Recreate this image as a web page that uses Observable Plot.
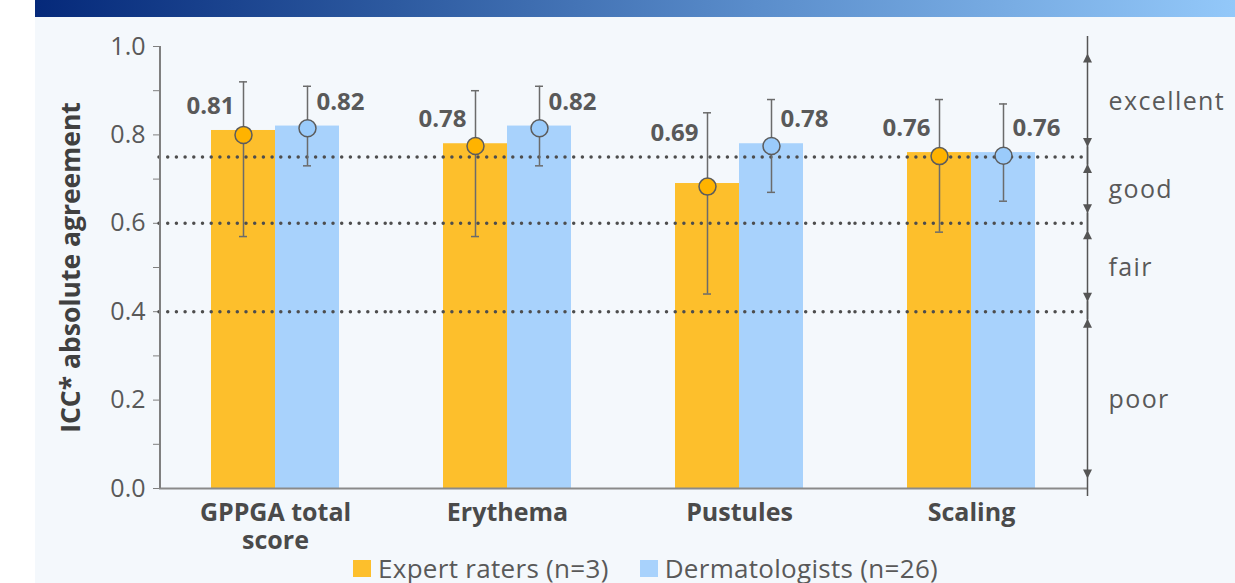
<!DOCTYPE html>
<html><head><meta charset="utf-8">
<script src="https://cdn.jsdelivr.net/npm/d3@7"></script>
<script src="https://cdn.jsdelivr.net/npm/@observablehq/plot@0.6"></script>
<style>
body{margin:0;width:1235px;height:583px;overflow:hidden;background:#fff;font-family:"Open Sans",sans-serif;position:relative}
#bg{position:absolute;left:35px;top:0;width:1200px;height:583px;background:#f4f8fc}
#banner{position:absolute;left:35px;top:0;width:1200px;height:17px;background:linear-gradient(to right,#05297a 0%,#2d5aa0 30%,#5a8dcb 60%,#93c8f9 100%)}
#chart{position:absolute;left:0;top:0}
#legend{position:absolute;left:353px;top:555px;height:27px;line-height:27px;display:flex;align-items:center;font-size:26px;letter-spacing:0.3px;color:#595959;white-space:nowrap}
#legend .sw{display:inline-block;width:18px;height:17px;margin-right:7px}
#legend .item{display:flex;align-items:center;margin-right:31px;line-height:27px}
</style></head>
<body>
<div id="bg"></div>
<div id="banner"></div>
<div id="chart"></div>
<div id="legend"></div>
<script>
const categories = ["GPPGA total score", "Erythema", "Pustules", "Scaling"];
const categoryLines = ["GPPGA total\nscore", "Erythema", "Pustules", "Scaling"];
const groups = ["Expert raters (n=3)", "Dermatologists (n=26)"];
const expertICC = [0.81, 0.78, 0.69, 0.76];
const expertPoint = [0.80, 0.775, 0.683, 0.752];
const expertLow = [0.57, 0.57, 0.44, 0.58];
const expertHigh = [0.92, 0.90, 0.85, 0.88];
const dermICC = [0.82, 0.82, 0.78, 0.76];
const dermPoint = [0.815, 0.815, 0.775, 0.753];
const dermLow = [0.73, 0.73, 0.67, 0.65];
const dermHigh = [0.91, 0.91, 0.88, 0.87];
const thresholds = [0.75, 0.6, 0.4];
const bandNames = ["excellent", "good", "fair", "poor"];
const bandLow = [0.75, 0.6, 0.4, 0];
const bandHigh = [1.0, 0.75, 0.6, 0.4];
const majorTicks = [0, 0.2, 0.4, 0.6, 0.8, 1.0];
const minorTicks = [0.1, 0.3, 0.5, 0.7, 0.9];

const barColors = ["#fdbf2c", "#a8d2fc"];
const dotColors = ["#ffb300", "#9acbfb"];
const ink = "#595959";
const axisGray = "#7f7f7f";

const rows = categories.flatMap((c, i) => [
  {cat: c, group: groups[0], icc: expertICC[i], point: expertPoint[i], lo: expertLow[i], hi: expertHigh[i]},
  {cat: c, group: groups[1], icc: dermICC[i], point: dermPoint[i], lo: dermLow[i], hi: dermHigh[i]}
]);
const bands = bandNames.map((n, i) => ({name: n, lo: bandLow[i], hi: bandHigh[i]}));
const lastCat = categories[categories.length - 1];
const allTicks = [...majorTicks, ...minorTicks].sort((a, b) => a - b);

// layout
const W = 1235, H = 553, mL = 159, mR = 148, mT = 46, mB = 65;
const outerPad = 0.785;
const facetW = (W - mL - mR) / categories.length;
const step = facetW / (groups.length + 2 * outerPad);
const firstCenter = step * outerPad + step / 2; // first bar centre inside a facet

const upHead = {draw(ctx) { ctx.moveTo(0, 0); ctx.lineTo(4.5, 9); ctx.lineTo(-4.5, 9); ctx.closePath(); }};
const downHead = {draw(ctx) { ctx.moveTo(0, 0); ctx.lineTo(4.5, -9); ctx.lineTo(-4.5, -9); ctx.closePath(); }};

const errStyle = {stroke: "#6b6b6b", strokeWidth: 1.5};
// value labels sit above the good/excellent threshold line when the bar is lower
const labelY = d => Math.max(d.icc, thresholds[0]);
const bandOpts = {fx: () => lastCat, x: () => groups[1]};

const chart = Plot.plot({
  width: W, height: H,
  marginTop: mT, marginBottom: mB, marginLeft: mL, marginRight: mR,
  style: {fontFamily: "Open Sans", fontSize: "25px", background: "transparent", color: ink, overflow: "visible"},
  fx: {domain: categories, padding: 0, axis: null},
  x: {domain: groups, paddingInner: 0, paddingOuter: outerPad, axis: null},
  y: {domain: [0, 1], ticks: allTicks, tickFormat: d => majorTicks.includes(d) ? d.toFixed(1) : "", tickSize: 6, tickPadding: 8, label: null},
  color: {domain: groups, range: barColors},
  marks: [
    Plot.barY(rows, {fx: "cat", x: "group", y: "icc", fill: "group", insetLeft: 0, insetRight: 0}),
    Plot.ruleY(thresholds, {stroke: "#4d4d4d", strokeWidth: 3.5, strokeDasharray: "0 8.7", strokeLinecap: "round"}),
    Plot.ruleY([0], {stroke: "#8a8a8a", strokeWidth: 2}),
    Plot.ruleX([0], {fx: () => categories[0], x: () => groups[0], y1: 0, y2: 1, dx: -firstCenter, stroke: axisGray, strokeWidth: 2}),
    Plot.ruleX(rows, {fx: "cat", x: "group", y1: "lo", y2: "hi", ...errStyle}),
    Plot.tickY(rows, {fx: "cat", x: "group", y: "hi", insetLeft: 28, insetRight: 28, ...errStyle}),
    Plot.tickY(rows, {fx: "cat", x: "group", y: "lo", insetLeft: 28, insetRight: 28, ...errStyle}),
    Plot.dot(rows.filter(d => d.group === groups[0]), {fx: "cat", x: "group", y: "point", r: 8.5, fill: dotColors[0], stroke: "#5c5c5c", strokeWidth: 1.5}),
    Plot.dot(rows.filter(d => d.group === groups[1]), {fx: "cat", x: "group", y: "point", r: 8.5, fill: dotColors[1], stroke: "#5c5c5c", strokeWidth: 1.5}),
    Plot.text(rows.filter(d => d.group === groups[0]), {fx: "cat", x: "group", y: labelY, text: d => d3.format(".2f")(d.icc), textAnchor: "end", dx: -9, dy: -24, fontSize: 24, fontWeight: "bold", fill: ink}),
    Plot.text(rows.filter(d => d.group === groups[1]), {fx: "cat", x: "group", y: labelY, text: d => d3.format(".2f")(d.icc), textAnchor: "start", dx: 9, dy: -24, fontSize: 24, fontWeight: "bold", fill: ink}),
    Plot.text(categories, {fx: d => d, text: (d, i) => categoryLines[i], frameAnchor: "bottom", lineAnchor: "top", dy: 13, lineHeight: 1.12, fontSize: 25, fontWeight: "bold", fill: "#4a4a4a"}),
    Plot.text(["ICC* absolute agreement"], {fx: () => categories[0], frameAnchor: "left", textAnchor: "middle", rotate: -90, dx: -88, fontSize: 26.5, fontWeight: "bold", fill: "#404040"}),
    Plot.ruleX(bands, {...bandOpts, y1: "lo", y2: "hi", dx: 84, insetTop: 8, insetBottom: 10, stroke: "#555", strokeWidth: 1.5}),
    Plot.dot(bands, {...bandOpts, y: "hi", dx: 84, dy: 7, symbol: upHead, fill: "#555", stroke: "none"}),
    Plot.dot(bands, {...bandOpts, y: "lo", dx: 84, dy: -10, symbol: downHead, fill: "#555", stroke: "none"}),
    Plot.text(bands, {...bandOpts, y: d => (d.lo + d.hi) / 2, text: "name", textAnchor: "start", dx: 105, fontSize: 25, fill: ink})
  ]
});
chart.querySelectorAll("text").forEach(t => {
  if (bandNames.includes(t.textContent)) t.style.letterSpacing = "1.4px";
});
chart.querySelectorAll("[aria-label='y-axis tick'] path").forEach(p => p.setAttribute("stroke", axisGray));
document.getElementById("chart").appendChild(chart);

const legend = document.getElementById("legend");
groups.forEach((g, i) => {
  const item = document.createElement("span");
  item.className = "item";
  const sw = document.createElement("span");
  sw.className = "sw";
  sw.style.background = barColors[i];
  item.appendChild(sw);
  item.appendChild(document.createTextNode(g));
  legend.appendChild(item);
});
</script>
</body></html>
